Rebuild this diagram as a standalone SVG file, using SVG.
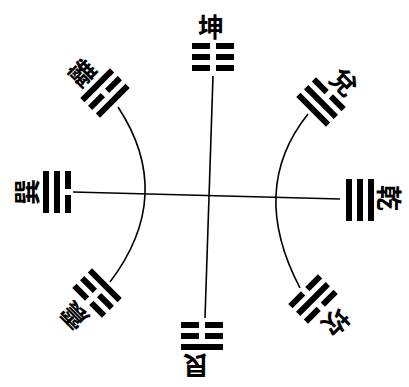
<svg xmlns="http://www.w3.org/2000/svg" width="409" height="387" viewBox="0 0 409 387">
<style>
.lbl{font-family:"Noto Sans CJK TC","Noto Sans CJK SC",sans-serif;font-size:26px;font-weight:bold;fill:#000;text-anchor:middle;dominant-baseline:central}
.ln{fill:none;stroke:#000;stroke-width:1.6}
</style>
<defs>
<g id="yang"><rect x="-21" y="-3" width="42" height="6"/></g>
<g id="yin"><rect x="-21" y="-3" width="18" height="6"/><rect x="3" y="-3" width="18" height="6"/></g>
</defs>
<rect width="409" height="387" fill="#fff"/>
<g id="connectors">
<path class="ln" d="M213,76 L205,318"/>
<path class="ln" d="M73,192 L340,199"/>
<path class="ln" d="M118,107 Q176,195 110,282"/>
<path class="ln" d="M308,114 Q248,189 300,288"/>
</g>
<g id="kun" transform="translate(213,57)">
<use href="#yin" y="11"/><use href="#yin"/><use href="#yin" y="-11"/>
<text class="lbl" x="-2" y="-32">坤</text>
</g>
<g id="gen" transform="translate(202,336) rotate(180)">
<use href="#yin" y="11"/><use href="#yin"/><use href="#yang" y="-11"/>
<text class="lbl" x="6" y="-31">艮</text>
</g>
<g id="qian" transform="translate(360,200) rotate(90)">
<use href="#yang" y="11"/><use href="#yang"/><use href="#yang" y="-11"/>
<text class="lbl" x="-2" y="-30">乾</text>
</g>
<g id="xun" transform="translate(57,192) rotate(-90)">
<use href="#yin" y="11"/><use href="#yang"/><use href="#yang" y="-11"/>
<text class="lbl" x="0" y="-32">巽</text>
</g>
<g id="li" transform="translate(105,93) rotate(-45)">
<use href="#yang" y="11"/><use href="#yin"/><use href="#yang" y="-11"/>
<text class="lbl" x="-2" y="-32">離</text>
</g>
<g id="dui" transform="translate(321,102) rotate(45)">
<use href="#yang" y="11"/><use href="#yang"/><use href="#yin" y="-11"/>
<text class="lbl" x="2" y="-32">兌</text>
</g>
<g id="zhen" transform="translate(97,293) rotate(-135)">
<use href="#yang" y="11"/><use href="#yin"/><use href="#yin" y="-11"/>
<text class="lbl" x="0" y="-34">震</text>
</g>
<g id="kan" transform="translate(313,299) rotate(135)">
<use href="#yin" y="11"/><use href="#yang"/><use href="#yin" y="-11"/>
<text class="lbl" x="0" y="-34">坎</text>
</g>
</svg>
